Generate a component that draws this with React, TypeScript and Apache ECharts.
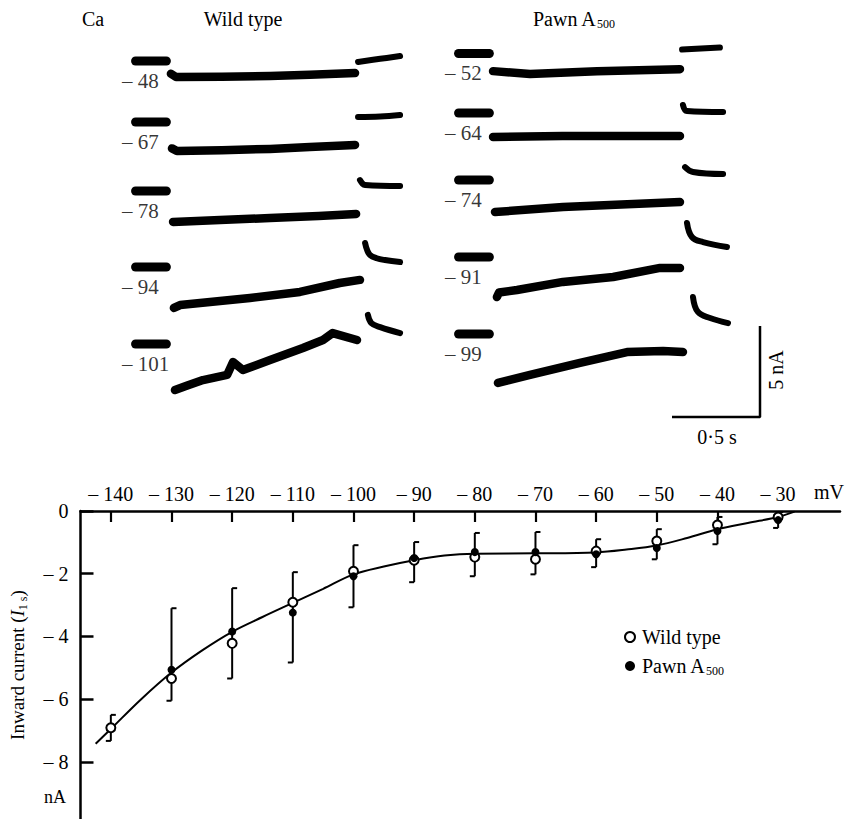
import React, { useEffect, useRef } from "react";
import * as echarts from "echarts";

// ---------------- I–V plot data (mV, nA) ----------------
const VOLTAGES = [-140, -130, -120, -110, -100, -90, -80, -70, -60, -50, -40, -30];
const WILD_TYPE_I = [-6.91, -5.34, -4.22, -2.91, -1.92, -1.57, -1.47, -1.54, -1.28, -0.96, -0.45, -0.19];
const PAWN_I = [null, -5.06, -3.84, -3.24, -2.08, -1.5, -1.31, -1.31, -1.38, -1.18, -0.64, -0.29];
const ERR_TOP = [-6.5, -3.1, -2.46, -1.95, -1.09, -0.99, -0.7, -0.67, -0.9, -0.58, -0.19, -0.03];
const ERR_BOTTOM = [-7.33, -6.05, -5.34, -4.83, -3.07, -2.27, -2.08, -2.02, -1.79, -1.54, -1.06, -0.54];
const FIT_CURVE = [
  [-142.5, -7.42], [-140, -6.95], [-135, -6.0], [-130, -5.15], [-125, -4.45], [-120, -3.85],
  [-115, -3.38], [-110, -2.93], [-105, -2.48], [-100, -2.02], [-95, -1.77], [-90, -1.57],
  [-85, -1.42], [-80, -1.36], [-70, -1.35], [-60, -1.32], [-55, -1.23], [-50, -1.1],
  [-45, -0.86], [-40, -0.58], [-35, -0.38], [-30, -0.19], [-27.3, -0.02],
];
const Y_TICKS = [0, -2, -4, -6, -8];

// ---------------- current traces (s, nA relative to holding current) ----------------
const WT_STEPS = [-48, -67, -78, -94, -101];
const PAWN_STEPS = [-52, -64, -74, -91, -99];
const HOLDING = [[-0.19, 0], [-0.015, 0]];

const wt48Step = [[0.011, -0.7], [0.04, -0.88], [0.3, -0.86], [0.574, -0.82], [0.8, -0.75], [1.057, -0.66]];
const wt48Tail = [[1.074, -0.05], [1.2, 0.12], [1.313, 0.27]];
const wt67Step = [[0.017, -1.45], [0.045, -1.59], [0.3, -1.55], [0.574, -1.48], [0.8, -1.38], [1.057, -1.26]];
const wt67Tail = [[1.074, 0.27], [1.2, 0.3], [1.313, 0.38]];
const wt78Step = [[0.023, -1.7], [0.29, -1.6], [0.574, -1.48], [0.85, -1.38], [1.063, -1.26]];
const wt78Tail = [[1.085, 0.6], [1.1, 0.4], [1.114, 0.33], [1.313, 0.27]];
const wt94Step = [[0.028, -2.25], [0.063, -2.09], [0.46, -1.7], [0.744, -1.37], [0.97, -0.88], [1.085, -0.71]];
const wt94Tail = [[1.114, 1.32], [1.125, 0.95], [1.142, 0.66], [1.18, 0.48], [1.227, 0.38], [1.313, 0.27]];
const wt101Step = [
  [0.034, -2.53], [0.1, -2.3], [0.193, -1.98], [0.33, -1.7], [0.364, -0.99], [0.42, -1.43],
  [0.574, -0.88], [0.761, -0.22], [0.875, 0.22], [0.93, 0.6], [1.068, 0.22],
];
const wt101Tail = [[1.13, 1.6], [1.15, 1.15], [1.2, 0.93], [1.313, 0.6]];

const p52Step = [[0.006, -0.99], [0.216, -1.15], [0.597, -0.99], [1.068, -0.88]];
const p52Tail = [[1.08, 0.22], [1.295, 0.33]];
const p64Step = [[0.006, -1.32], [0.4, -1.26], [1.068, -1.26]];
const p64Tail = [[1.085, 0.44], [1.108, 0.11], [1.313, 0.05]];
const p74Step = [[0.017, -1.76], [0.403, -1.48], [1.068, -1.21]];
const p74Tail = [[1.097, 0.71], [1.142, 0.44], [1.313, 0.33]];
const p91Step = [[0.028, -2.2], [0.04, -1.95], [0.142, -1.81], [0.403, -1.37], [0.688, -1.1], [0.955, -0.6], [1.068, -0.6]];
const p91Tail = [[1.108, 1.87], [1.136, 1.1], [1.199, 0.82], [1.335, 0.55]];
const p99Step = [[0.034, -2.69], [0.216, -2.25], [0.5, -1.59], [0.767, -0.99], [0.972, -0.93], [1.085, -0.99]];
const p99Tail = [[1.142, 2.03], [1.17, 1.21], [1.239, 0.88], [1.341, 0.6]];

const WT_TRACES = [[wt48Step, wt48Tail], [wt67Step, wt67Tail], [wt78Step, wt78Tail], [wt94Step, wt94Tail], [wt101Step, wt101Tail]];
const PAWN_TRACES = [[p52Step, p52Tail], [p64Step, p64Tail], [p74Step, p74Tail], [p91Step, p91Tail], [p99Step, p99Tail]];

// calibration bar
const SCALE_TIME = 0.5; // s
const SCALE_CURRENT = 5; // nA

// ---------------- layout (pixels) ----------------
const FONT = "Liberation Serif";
const INK = "#000";
const PX_PER_S = 176;
const PX_PER_NA = 18.2;
const T_MIN = -0.3;
const T_MAX = 1.4;
const I_MIN = -4;
const I_MAX = 3;
const WT_T0_X = 169;
const PAWN_T0_X = 492;
const WT_ROW_Y = [61, 122, 191, 267, 344];
const PAWN_ROW_Y = [52, 113, 180, 257, 334];

function buildOption() {
  const grid: any[] = [];
  const xAxis: any[] = [];
  const yAxis: any[] = [];
  const series: any[] = [];

  const addTrace = (t0x: number, rowY: number, steps: number[][][], volt: number) => {
    const idx = grid.length;
    grid.push({
      left: t0x + T_MIN * PX_PER_S,
      top: rowY - I_MAX * PX_PER_NA,
      width: (T_MAX - T_MIN) * PX_PER_S,
      height: (I_MAX - I_MIN) * PX_PER_NA,
    });
    xAxis.push({ type: "value", gridIndex: idx, min: T_MIN, max: T_MAX, show: false });
    yAxis.push({ type: "value", gridIndex: idx, min: I_MIN, max: I_MAX, show: false });
    const base = { type: "line", xAxisIndex: idx, yAxisIndex: idx, symbol: "none", silent: true, clip: false };
    series.push({ ...base, data: HOLDING, lineStyle: { color: INK, width: 9, cap: "round" } });
    series.push({ ...base, data: steps[0], lineStyle: { color: INK, width: 8.5, cap: "round", join: "round" } });
    series.push({ ...base, data: steps[1], smooth: 0.4, lineStyle: { color: INK, width: 6, cap: "round", join: "round" } });
    series.push({
      type: "scatter",
      xAxisIndex: idx,
      yAxisIndex: idx,
      symbolSize: 1,
      itemStyle: { color: "rgba(0,0,0,0)" },
      clip: false,
      silent: true,
      data: [[-0.27, -1.1, volt]],
      label: {
        show: true,
        position: "right",
        distance: 0,
        formatter: (p: any) => "– " + Math.abs(p.value[2]),
        fontFamily: FONT,
        fontSize: 21,
        color: INK,
      },
    });
  };

  WT_STEPS.forEach((v, i) => addTrace(WT_T0_X, WT_ROW_Y[i], WT_TRACES[i], v));
  PAWN_STEPS.forEach((v, i) => addTrace(PAWN_T0_X, PAWN_ROW_Y[i], PAWN_TRACES[i], v));

  // calibration bar grid
  const sIdx = grid.length;
  grid.push({ left: 672, top: 326, width: SCALE_TIME * PX_PER_S, height: SCALE_CURRENT * PX_PER_NA });
  xAxis.push({ type: "value", gridIndex: sIdx, min: 0, max: SCALE_TIME, show: false });
  yAxis.push({ type: "value", gridIndex: sIdx, min: 0, max: SCALE_CURRENT, show: false });
  series.push({
    type: "line",
    xAxisIndex: sIdx,
    yAxisIndex: sIdx,
    symbol: "none",
    clip: false,
    data: [[0, 0], [SCALE_TIME, 0], [SCALE_TIME, SCALE_CURRENT]],
    lineStyle: { color: INK, width: 2.5 },
  });

  // I–V grid
  const g = grid.length;
  grid.push({ left: 80, top: 511, width: 760, height: 308 });
  xAxis.push({
    type: "value",
    gridIndex: g,
    position: "top",
    min: -145,
    max: -19.8,
    axisLine: { show: true, lineStyle: { color: INK, width: 2.5 } },
    axisTick: { show: true, inside: true, length: 11, lineStyle: { color: INK, width: 2.2 }, customValues: VOLTAGES },
    axisLabel: {
      customValues: VOLTAGES,
      formatter: (v: number) => "– " + Math.abs(v),
      fontFamily: FONT,
      fontSize: 20,
      color: INK,
      margin: 7,
    },
    splitLine: { show: false },
  });
  yAxis.push({
    type: "value",
    gridIndex: g,
    min: -9.82,
    max: 0,
    axisLine: { show: true, lineStyle: { color: INK, width: 2.5 } },
    axisTick: { show: true, inside: true, length: 13, lineStyle: { color: INK, width: 2.5 }, customValues: Y_TICKS },
    axisLabel: {
      customValues: Y_TICKS,
      formatter: (v: number) => (v === 0 ? "0" : "– " + Math.abs(v)),
      fontFamily: FONT,
      fontSize: 20,
      color: INK,
      margin: 12,
    },
    splitLine: { show: false },
    name: "Inward current ({it|I}{sub|1 s})",
    nameLocation: "middle",
    nameRotate: 90,
    nameGap: 52,
    nameTextStyle: {
      fontFamily: FONT,
      fontSize: 19,
      color: INK,
      rich: {
        it: { fontFamily: FONT, fontSize: 19, fontStyle: "italic", color: INK },
        sub: { fontFamily: FONT, fontSize: 12, color: INK, verticalAlign: "bottom", lineHeight: 22 },
      },
    },
  });

  series.push({
    type: "line",
    xAxisIndex: g,
    yAxisIndex: g,
    data: FIT_CURVE,
    smooth: 0.35,
    symbol: "none",
    lineStyle: { color: INK, width: 2 },
    z: 1,
  });
  series.push({
    type: "custom",
    xAxisIndex: g,
    yAxisIndex: g,
    encode: { x: 0, y: [1, 2] },
    data: VOLTAGES.map((v, i) => [v, ERR_TOP[i], ERR_BOTTOM[i]]),
    renderItem: (params: any, api: any) => {
      const top = api.coord([api.value(0), api.value(1)]);
      const bot = api.coord([api.value(0), api.value(2)]);
      const style = { stroke: INK, lineWidth: 2 };
      return {
        type: "group",
        children: [
          { type: "line", shape: { x1: top[0], y1: top[1], x2: bot[0], y2: bot[1] }, style },
          { type: "line", shape: { x1: top[0], y1: top[1], x2: top[0] + 5, y2: top[1] }, style },
          { type: "line", shape: { x1: bot[0], y1: bot[1], x2: bot[0] - 5, y2: bot[1] }, style },
        ],
      };
    },
    z: 2,
  });
  series.push({
    name: "Wild type",
    type: "scatter",
    xAxisIndex: g,
    yAxisIndex: g,
    data: VOLTAGES.map((v, i) => [v, WILD_TYPE_I[i]]),
    symbol: "circle",
    symbolSize: 9,
    itemStyle: { color: "#fff", borderColor: INK, borderWidth: 2, opacity: 1 },
    z: 3,
  });
  series.push({
    name: "Pawn A500",
    type: "scatter",
    xAxisIndex: g,
    yAxisIndex: g,
    data: VOLTAGES.map((v, i) => [v, PAWN_I[i]]).filter((d) => d[1] !== null),
    symbol: "circle",
    symbolSize: 8,
    itemStyle: { color: INK, opacity: 1 },
    z: 4,
  });

  const txt = (text: string, x: number, y: number, extra: any = {}) => ({
    type: "text",
    x,
    y,
    style: { text, fontFamily: FONT, fontSize: 20, fill: INK, align: "left", verticalAlign: "middle", ...extra },
  });

  return {
    animation: false,
    backgroundColor: "#fff",
    grid,
    xAxis,
    yAxis,
    series,
    legend: {
      data: ["Wild type", "Pawn A500"],
      orient: "vertical",
      left: 619,
      top: 622,
      itemWidth: 10,
      itemHeight: 10,
      itemGap: 9,
      selectedMode: false,
      formatter: (n: string) => (n === "Pawn A500" ? "Pawn A{sub|500}" : n),
      textStyle: {
        fontFamily: FONT,
        fontSize: 20,
        color: INK,
        padding: [0, 0, 0, 2],
        rich: { sub: { fontFamily: FONT, fontSize: 12, color: INK, verticalAlign: "bottom", lineHeight: 22 } },
      },
    },
    graphic: [
      txt("Ca", 82, 19),
      txt("Wild type", 243, 19, { align: "center" }),
      txt("Pawn A{sub|500}", 533, 19, {
        rich: { sub: { fontFamily: FONT, fontSize: 12, fill: INK, verticalAlign: "bottom", lineHeight: 22 } },
      }),
      txt("0·5 s", 717, 437, { align: "center" }),
      { ...txt("5 nA", 776, 370, { align: "center" }), rotation: Math.PI / 2 },
      txt("mV", 814, 492, { fontSize: 20 }),
      txt("nA", 44, 797, { fontSize: 18 }),
    ],
  };
}

export default function App() {
  const ref = useRef<HTMLDivElement>(null);
  useEffect(() => {
    if (!ref.current) return;
    const chart = echarts.init(ref.current, undefined, { renderer: "svg" });
    chart.setOption(buildOption() as any);
    return () => chart.dispose();
  }, []);
  return (
    <div
      ref={ref}
      style={{ position: "fixed", left: 0, top: 0, width: 846, height: 819, background: "#fff" }}
    />
  );
}
